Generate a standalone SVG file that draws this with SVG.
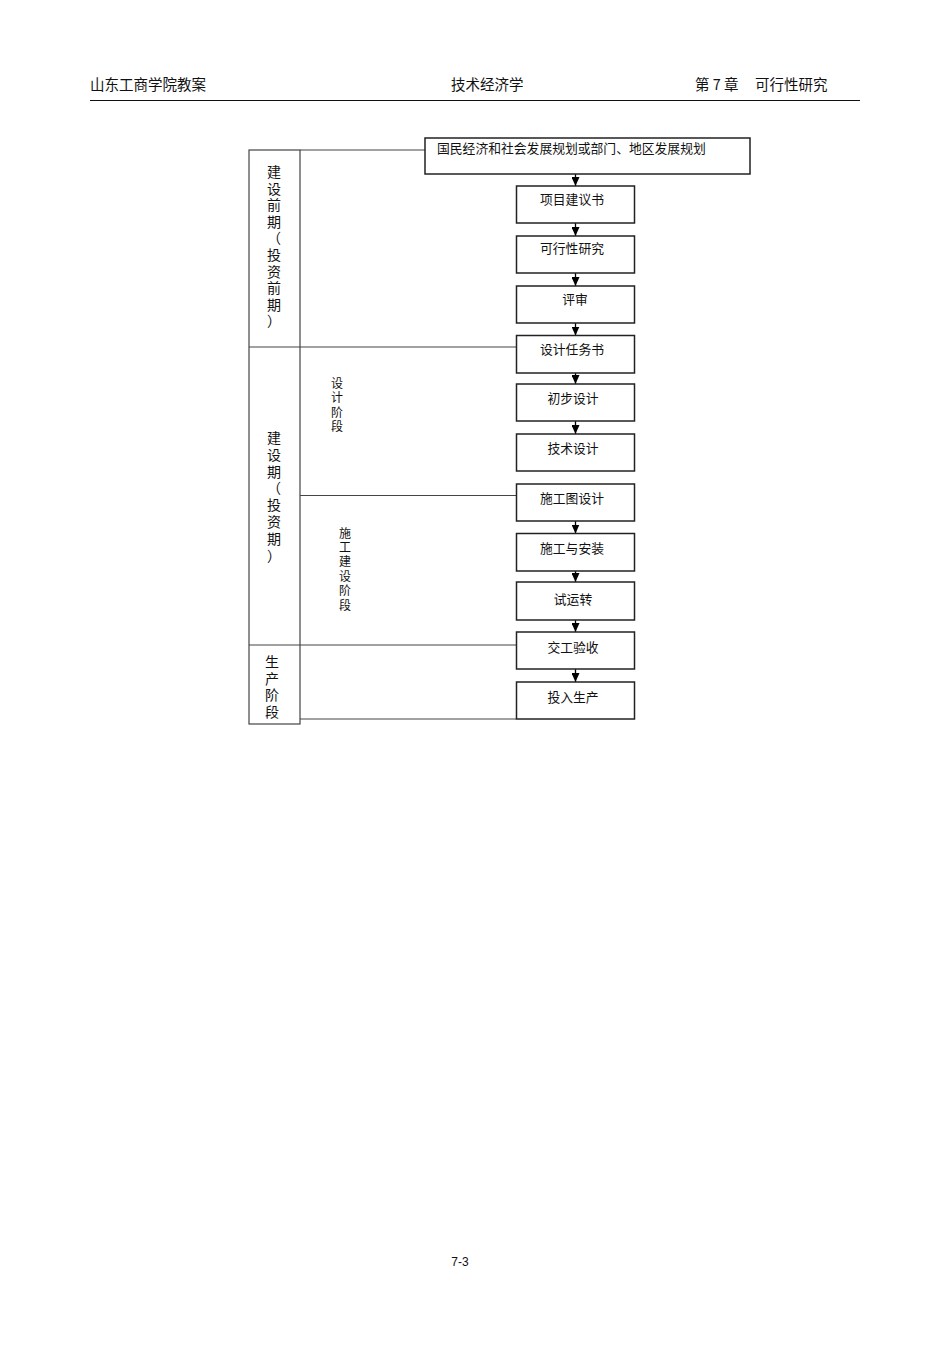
<svg xmlns="http://www.w3.org/2000/svg" width="950" height="1346" viewBox="0 0 950 1346">
<style>
.cjk{font-family:"Noto Sans CJK SC","Liberation Sans",sans-serif;fill:#111}
.hdr{font-size:14.5px}
.lbl{font-size:12.8px;text-anchor:middle}
.big{font-size:14px;text-anchor:middle}
.sm{font-size:12px;text-anchor:middle}
.box{fill:#fff;stroke:#222;stroke-width:1.5}
.ln{fill:none;stroke:#444;stroke-width:1.2}
.arr{stroke:#000;stroke-width:1.3;fill:none}
</style>
<defs>
<marker id="ah" viewBox="0 0 9 8" refX="9" refY="4" markerWidth="9" markerHeight="8" markerUnits="userSpaceOnUse" orient="auto">
<path d="M0,0 L9,4 L0,8 Z" fill="#000"/>
</marker>
</defs>
<rect width="950" height="1346" fill="#fff"/>
<g id="header">
<text class="cjk hdr" x="90" y="90">山东工商学院教案</text>
<text class="cjk hdr" x="451" y="90">技术经济学</text>
<text class="cjk hdr" x="695" y="90" xml:space="preserve">第 7 章</text>
<text class="cjk hdr" x="755" y="90">可行性研究</text>
<line x1="90" y1="100.5" x2="860" y2="100.5" stroke="#111" stroke-width="1.2"/>
</g>
<g id="phase-column">
<rect class="ln" x="249" y="150" width="51" height="574"/>
<line class="ln" x1="249" y1="347" x2="300" y2="347"/>
<line class="ln" x1="249" y1="645" x2="300" y2="645"/>
</g>
<g id="connectors">
<line class="ln" x1="300" y1="150" x2="425" y2="150"/>
<line class="ln" x1="300" y1="347" x2="516" y2="347"/>
<line class="ln" x1="300" y1="495.5" x2="516" y2="495.5"/>
<line class="ln" x1="300" y1="645" x2="516" y2="645"/>
<line class="ln" x1="300" y1="719" x2="516" y2="719"/>
<line class="arr" x1="575.5" y1="174" x2="575.5" y2="186" marker-end="url(#ah)"/>
<line class="arr" x1="575.5" y1="223" x2="575.5" y2="236" marker-end="url(#ah)"/>
<line class="arr" x1="575.5" y1="273" x2="575.5" y2="286" marker-end="url(#ah)"/>
<line class="arr" x1="575.5" y1="323" x2="575.5" y2="335.5" marker-end="url(#ah)"/>
<line class="arr" x1="575.5" y1="373" x2="575.5" y2="384" marker-end="url(#ah)"/>
<line class="arr" x1="575.5" y1="421" x2="575.5" y2="434" marker-end="url(#ah)"/>
<line class="arr" x1="575.5" y1="521" x2="575.5" y2="533.5" marker-end="url(#ah)"/>
<line class="arr" x1="575.5" y1="571" x2="575.5" y2="582" marker-end="url(#ah)"/>
<line class="arr" x1="575.5" y1="620" x2="575.5" y2="632" marker-end="url(#ah)"/>
<line class="arr" x1="575.5" y1="669" x2="575.5" y2="682" marker-end="url(#ah)"/>
</g>
<g id="label-pre">
<text class="cjk big" x="274"><tspan x="274" y="177">建</tspan><tspan x="274" dy="16.6">设</tspan><tspan x="274" dy="16.6">前</tspan><tspan x="274" dy="16.6">期</tspan><tspan x="274" dy="16.6">（</tspan><tspan x="274" dy="16.6">投</tspan><tspan x="274" dy="16.6">资</tspan><tspan x="274" dy="16.6">前</tspan><tspan x="274" dy="16.6">期</tspan><tspan x="274" dy="16.6">）</tspan></text>
</g>
<g id="label-build">
<text class="cjk big" x="274"><tspan x="274" y="443">建</tspan><tspan x="274" dy="16.8">设</tspan><tspan x="274" dy="16.8">期</tspan><tspan x="274" dy="16.8">（</tspan><tspan x="274" dy="16.8">投</tspan><tspan x="274" dy="16.8">资</tspan><tspan x="274" dy="16.8">期</tspan><tspan x="274" dy="16.8">）</tspan></text>
</g>
<g id="label-prod">
<text class="cjk big" x="272"><tspan x="272" y="667">生</tspan><tspan x="272" dy="16.6">产</tspan><tspan x="272" dy="16.6">阶</tspan><tspan x="272" dy="16.6">段</tspan></text>
</g>
<g id="label-design">
<text class="cjk sm" x="337"><tspan x="337" y="387.5">设</tspan><tspan x="337" dy="14.6">计</tspan><tspan x="337" dy="14.6">阶</tspan><tspan x="337" dy="14.6">段</tspan></text>
</g>
<g id="label-construct">
<text class="cjk sm" x="345"><tspan x="345" y="537.5">施</tspan><tspan x="345" dy="14.4">工</tspan><tspan x="345" dy="14.4">建</tspan><tspan x="345" dy="14.4">设</tspan><tspan x="345" dy="14.4">阶</tspan><tspan x="345" dy="14.4">段</tspan></text>
</g>
<g id="n0"><rect class="box" x="425" y="138" width="325" height="36"/><text class="cjk" style="font-size:12.8px" x="437" y="153">国民经济和社会发展规划或部门、地区发展规划</text></g>
<g id="n1"><rect class="box" x="516.5" y="186" width="118" height="37"/><text class="cjk lbl" x="572" y="204">项目建议书</text></g>
<g id="n2"><rect class="box" x="516.5" y="236" width="118" height="37"/><text class="cjk lbl" x="572" y="253">可行性研究</text></g>
<g id="n3"><rect class="box" x="516.5" y="286" width="118" height="37"/><text class="cjk lbl" x="575" y="303.5">评审</text></g>
<g id="n4"><rect class="box" x="516.5" y="335.5" width="118" height="37.5"/><text class="cjk lbl" x="572" y="353.5">设计任务书</text></g>
<g id="n5"><rect class="box" x="516.5" y="384" width="118" height="37"/><text class="cjk lbl" x="573" y="402.5">初步设计</text></g>
<g id="n6"><rect class="box" x="516.5" y="434" width="118" height="37"/><text class="cjk lbl" x="573" y="452.5">技术设计</text></g>
<g id="n7"><rect class="box" x="516.5" y="484" width="118" height="37"/><text class="cjk lbl" x="572" y="502.5">施工图设计</text></g>
<g id="n8"><rect class="box" x="516.5" y="533.5" width="118" height="37.5"/><text class="cjk lbl" x="572" y="552.5">施工与安装</text></g>
<g id="n9"><rect class="box" x="516.5" y="582" width="118" height="38"/><text class="cjk lbl" x="573" y="603.5">试运转</text></g>
<g id="n10"><rect class="box" x="516.5" y="632" width="118" height="37"/><text class="cjk lbl" x="573" y="651.5">交工验收</text></g>
<g id="n11"><rect class="box" x="516.5" y="682" width="118" height="37"/><text class="cjk lbl" x="573" y="701.5">投入生产</text></g>
<g id="footer">
<text x="460" y="1266" style="font-family:'Liberation Sans',sans-serif;font-size:12px;text-anchor:middle;fill:#111">7-3</text>
</g>
</svg>
